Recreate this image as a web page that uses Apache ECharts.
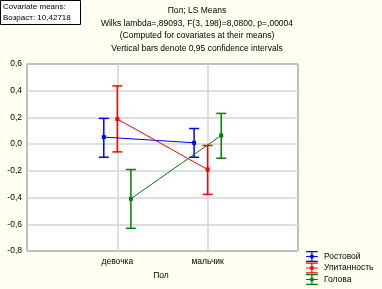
<!DOCTYPE html>
<html><head><meta charset="utf-8">
<script src="https://cdn.jsdelivr.net/npm/echarts@6/dist/echarts.min.js"></script>
<style>html,body{margin:0;padding:0;background:#fffff2;}#c{width:382px;height:289px;}</style>
</head><body><div id="c"></div>
<script>
var categories = ['девочка', 'мальчик'];
var seriesNames = ['Ростовой', 'Упитанность', 'Голова'];
var rostMean = [0.053, 0.010];
var rostUp = [0.193, 0.117];
var rostLow = [-0.098, -0.098];
var upitMean = [0.188, -0.190];
var upitUp = [0.436, -0.010];
var upitLow = [-0.058, -0.376];
var golMean = [-0.409, 0.065];
var golUp = [-0.190, 0.230];
var golLow = [-0.630, -0.105];
var yTicks = [-0.8, -0.6, -0.4, -0.2, 0.0, 0.2, 0.4, 0.6];
var titleLines = ['Пол; LS Means', 'Wilks lambda=,89093, F(3, 198)=8,0800, p=,00004', '(Computed for covariates at their means)', 'Vertical bars denote 0,95 confidence intervals'];
var boxLines = ['Covariate means:', 'Возраст: 10,42718'];

var colors = ['#0000ff', '#ff0000', '#008000'];
var offsets = [-0.15, 0, 0.15];
var means = [rostMean, upitMean, golMean];
var ups = [rostUp, upitUp, golUp];
var lows = [rostLow, upitLow, golLow];
var font = 'Liberation Sans';
var icon = 'path://M0,0h12v1.2h-12z M0,5h12v1.2h-12z M0,10h12v1.2h-12z M5.4,0h1.2v11.2h-1.2z M4.3,3.9h3.4v3.4h-3.4z';

var series = [];
seriesNames.forEach(function (name, s) {
  var pts = categories.map(function (c, i) { return [i + 1 + offsets[s], means[s][i]]; });
  series.push({
    name: name, type: 'line', data: pts, symbol: 'rect', symbolSize: 4,
    itemStyle: { color: colors[s] }, lineStyle: { color: colors[s], width: 1 },
    z: 3, silent: true, animation: false
  });
  var eb = categories.map(function (c, i) { return [i + 1 + offsets[s], lows[s][i], ups[s][i]]; });
  series.push({
    name: name, type: 'custom', data: eb, z: 2, animation: false, silent: true,
    encode: { x: 0, y: [1, 2] },
    renderItem: function (params, api) {
      var x = api.value(0);
      var lo = api.coord([x, api.value(1)]);
      var hi = api.coord([x, api.value(2)]);
      var hw = 5;
      var st = { stroke: colors[s], lineWidth: 1.5, fill: 'none' };
      return { type: 'group', children: [
        { type: 'line', shape: { x1: lo[0], y1: lo[1], x2: hi[0], y2: hi[1] }, style: st },
        { type: 'line', shape: { x1: lo[0] - hw, y1: lo[1], x2: lo[0] + hw, y2: lo[1] }, style: st },
        { type: 'line', shape: { x1: hi[0] - hw, y1: hi[1], x2: hi[0] + hw, y2: hi[1] }, style: st }
      ]};
    }
  });
});

var graphic = [
  { type: 'rect', shape: { x: 0.5, y: 0.5, width: 80, height: 24 }, style: { fill: '#ffffff', stroke: '#000', lineWidth: 1 } }
];
boxLines.forEach(function (t, i) {
  graphic.push({ type: 'text', left: 3, top: 2.5 + i * 11, style: { text: t, font: '8px "' + font + '"', fill: '#000' } });
});
titleLines.forEach(function (t, i) {
  graphic.push({ type: 'text', x: 197, y: 6 + i * 12.7, style: { text: t, font: '8.5px "' + font + '"', fill: '#000', textAlign: 'center' } });
});
graphic.push({ type: 'text', x: 161, y: 271, style: { text: 'Пол', font: '8.5px "' + font + '"', fill: '#000', textAlign: 'center' } });

var chart = echarts.init(document.getElementById('c'));
chart.setOption({
  backgroundColor: '#fffff2',
  animation: false,
  grid: { left: 27, right: 84, top: 64, bottom: 38, show: true, backgroundColor: '#ffffff', borderColor: '#000', borderWidth: 1 },
  xAxis: {
    type: 'value', min: 0, max: 3, interval: 1,
    axisLine: { show: false }, axisTick: { show: false },
    splitLine: { show: true, lineStyle: { color: '#d4d4d4', width: 1.5 } },
    axisLabel: { fontFamily: font, fontSize: 8.5, color: '#000', margin: 6,
      formatter: function (v) { return (v >= 1 && v <= categories.length && v % 1 === 0) ? categories[v - 1] : ''; } }
  },
  yAxis: {
    type: 'value', min: yTicks[0], max: yTicks[yTicks.length - 1], interval: 0.2,
    axisLine: { show: false }, axisTick: { show: false },
    splitLine: { show: true, lineStyle: { color: '#d4d4d4', width: 1.5 } },
    axisLabel: { fontFamily: font, fontSize: 8.5, color: '#000', margin: 5,
      formatter: function (v) { return v.toFixed(1).replace('.', ','); } }
  },
  legend: {
    orient: 'vertical', left: 306, top: 251, itemWidth: 12, itemHeight: 11, itemGap: 0.5,
    data: seriesNames.map(function (n, i) { return { name: n, icon: icon, itemStyle: { color: colors[i] } }; }),
    textStyle: { fontFamily: font, fontSize: 8.5, color: '#000', padding: [0, 0, 0, 1] },
    padding: 0, selectedMode: false
  },
  graphic: graphic,
  series: series
});
</script>
</body></html>
